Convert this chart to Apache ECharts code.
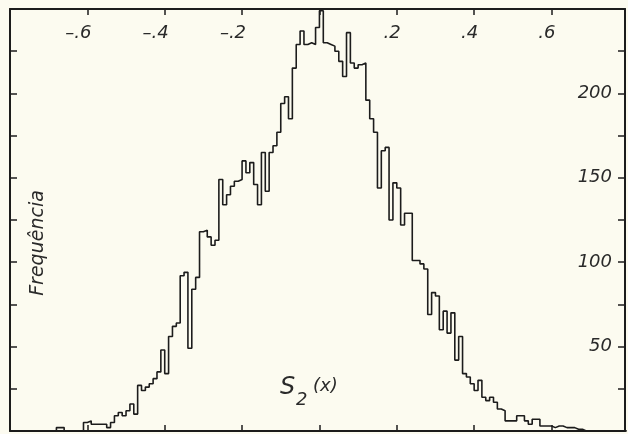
<!DOCTYPE html>
<html>
<head>
<meta charset="utf-8">
<style>
  html, body { margin: 0; padding: 0; background: #fcfbf0; }
  #chart { width: 628px; height: 434px; }
</style>
<script src="https://cdn.jsdelivr.net/npm/echarts@6/dist/echarts.min.js"></script>
</head>
<body>
<div id="chart"></div>
<script>
'use strict';

// histogram bins: width 0.01 starting at -0.80
const binStart = -0.8;
const binWidth = 0.01;
const counts = [
    0, 0, 0, 0, 0, 0, 0, 0, 0, 0,
    0, 0, 2, 2, 0, 0, 0, 0, 0, 5,
    6, 4, 4, 4, 4, 2, 5, 9, 11, 9,
    12, 16, 10, 27, 24, 26, 28, 31, 35, 48,
    34, 56, 62, 64, 92, 94, 49, 84, 91, 118,
    119, 115, 110, 113, 149, 134, 140, 145, 148, 149,
    160, 153, 159, 146, 134, 165, 142, 165, 169, 177,
    194, 198, 185, 215, 229, 237, 229, 230, 229, 239,
    249, 230, 229, 228, 225, 219, 210, 236, 218, 215,
    217, 218, 196, 185, 177, 144, 166, 168, 125, 147,
    144, 122, 129, 129, 101, 101, 99, 96, 69, 82,
    80, 60, 71, 58, 70, 42, 56, 34, 32, 28,
    24, 30, 20, 18, 20, 17, 13, 12, 6, 6,
    6, 9, 9, 6, 4, 7, 7, 3, 3, 3,
    2, 3, 3, 2, 2, 2, 1, 1, 0, 0,
    0, 0, 0, 0, 0, 0, 0, 0, 0, 0
];

const xTickValues = [-0.6, -0.4, -0.2, 0.2, 0.4, 0.6];
const xTickTexts = ['\u2013.6', '\u2013.4', '\u2013.2', '.2', '.4', '.6'];
const yLabelValues = [50, 100, 150, 200];

(function () {
    const ink = '#1c1c1c';
    const labelFont = {
        color: '#2a2a2a',
        fontFamily: 'DejaVu Sans',
        fontStyle: 'italic',
        fontWeight: 200,
        fontSize: 18
    };

    const steps = counts.map((c, k) => [binStart + k * binWidth, c]);
    steps.push([binStart + counts.length * binWidth, counts[counts.length - 1]]);

    const xLabel = value => {
        const i = xTickValues.findIndex(t => Math.abs(t - value) < 1e-6);
        return i < 0 ? '' : xTickTexts[i];
    };

    const xBase = {
        type: 'value',
        min: -0.8,
        max: 0.79,
        interval: 0.2,
        splitLine: { show: false },
        axisLine: { show: true, onZero: false, lineStyle: { color: ink, width: 2 } },
        axisTick: { show: true, inside: true, length: 6, lineStyle: { color: ink, width: 1.5 } }
    };
    const yBase = {
        type: 'value',
        min: 0,
        max: 250,
        interval: 25,
        splitLine: { show: false },
        axisLine: { show: true, onZero: false, lineStyle: { color: ink, width: 2 } },
        axisTick: { show: true, inside: true, length: 7, lineStyle: { color: ink, width: 1.5 } }
    };

    const options = {
        backgroundColor: '#fcfbf0',
        animation: false,
        grid: { left: 10, right: 1, top: 9, bottom: 3 },
        xAxis: [
            Object.assign({}, xBase, {
                position: 'bottom',
                axisLabel: { show: false }
            }),
            Object.assign({}, xBase, {
                position: 'top',
                axisLabel: Object.assign({
                    inside: true,
                    margin: 15,
                    align: 'right',
                    padding: [0, -4, 0, 0],
                    formatter: xLabel
                }, labelFont)
            })
        ],
        yAxis: [
            Object.assign({}, yBase, {
                position: 'left',
                axisLabel: { show: false }
            }),
            Object.assign({}, yBase, {
                position: 'right',
                axisLabel: Object.assign({
                    inside: true,
                    margin: 13,
                    formatter: v => (yLabelValues.includes(v) ? String(v) : '')
                }, labelFont)
            })
        ],
        graphic: [
            {
                type: 'text',
                x: 38,
                y: 243,
                rotation: Math.PI / 2,
                style: Object.assign({}, labelFont, {
                    text: 'Frequência',
                    fill: '#2a2a2a',
                    fontSize: 19,
                    align: 'center',
                    verticalAlign: 'middle'
                })
            },
            {
                type: 'text',
                x: 280,
                y: 376,
                style: Object.assign({}, labelFont, { text: 'S', fill: '#2a2a2a', fontSize: 24 })
            },
            {
                type: 'text',
                x: 296,
                y: 391,
                style: Object.assign({}, labelFont, { text: '2', fill: '#2a2a2a', fontSize: 18 })
            },
            {
                type: 'text',
                x: 313,
                y: 377,
                style: Object.assign({}, labelFont, { text: '(x)', fill: '#2a2a2a', fontSize: 18 })
            }
        ],
        series: [
            {
                type: 'line',
                step: 'end',
                symbol: 'none',
                xAxisIndex: 0,
                yAxisIndex: 0,
                lineStyle: { color: ink, width: 1.6 },
                data: steps
            }
        ]
    };

    const chart = echarts.init(document.getElementById('chart'));
    chart.setOption(options);
    window.addEventListener('resize', () => {
        chart.resize();
    });
})();
</script>
</body>
</html>
